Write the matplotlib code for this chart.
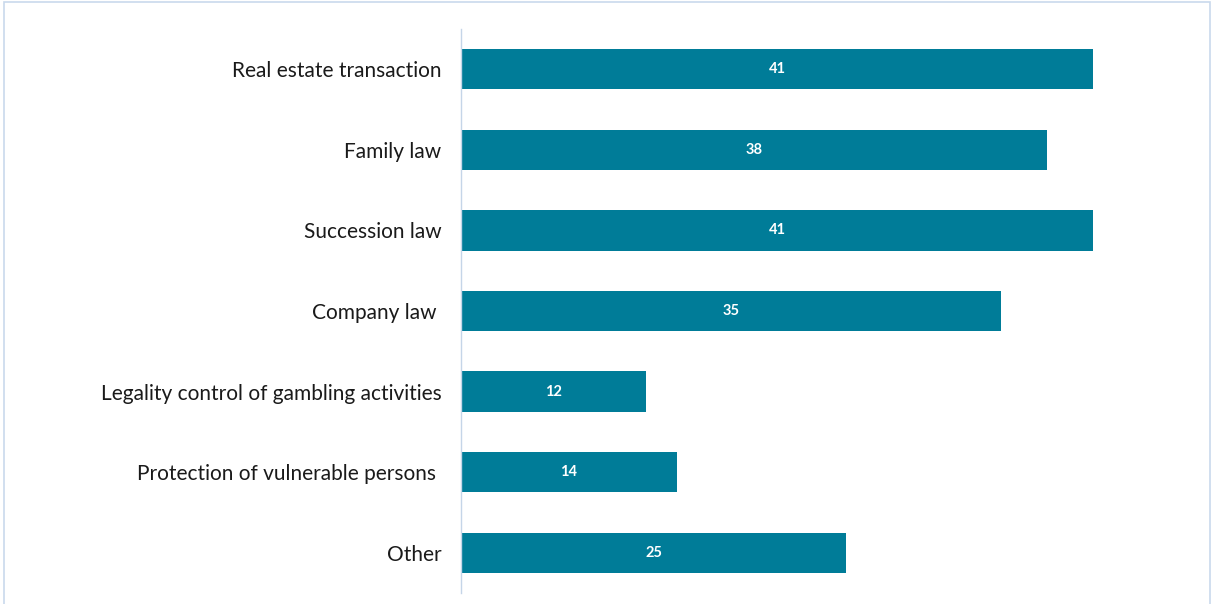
import matplotlib.pyplot as plt
from matplotlib.patches import Rectangle

categories = [
    "Real estate transaction",
    "Family law",
    "Succession law",
    "Company law ",
    "Legality control of gambling activities",
    "Protection of vulnerable persons ",
    "Other",
]
values = [41, 38, 41, 35, 12, 14, 25]

plt.rcParams['font.family'] = ['Lato', 'DejaVu Sans']

fig = plt.figure(figsize=(12.12, 6.04), dpi=100)
ax = fig.add_axes([461 / 1212, 1 - 593 / 604, (1200 - 461) / 1212, (593 - 29) / 604])

# light frame around the chart
fig.patches.append(Rectangle((4 / 1212, -0.01), 1206 / 1212, 1 - 2 / 604 + 0.01,
                             transform=fig.transFigure, fill=False,
                             edgecolor='#c9d9ec', linewidth=1.2))

y = list(range(len(categories)))
bars = ax.barh(y, values, height=0.5, color='#007C98')
for b, v in zip(bars, values):
    ax.text(b.get_width() / 2, b.get_y() + b.get_height() / 2, str(v),
            ha='center', va='center', color='white', fontsize=10.5, fontweight='bold')

ax.set_ylim(len(categories) - 0.5, -0.5)
ax.set_xlim(0, (1200 - 461) / (632 / 41))
ax.set_yticks(y)
ax.set_yticklabels(categories, fontsize=15, color='#1a1a1a')
ax.tick_params(axis='y', length=0, pad=14)
ax.set_xticks([])
for s in ['top', 'right', 'bottom']:
    ax.spines[s].set_visible(False)
ax.spines['left'].set_color('#c5d5e8')
ax.spines['left'].set_linewidth(1)

fig.savefig('out.png', dpi=100)
